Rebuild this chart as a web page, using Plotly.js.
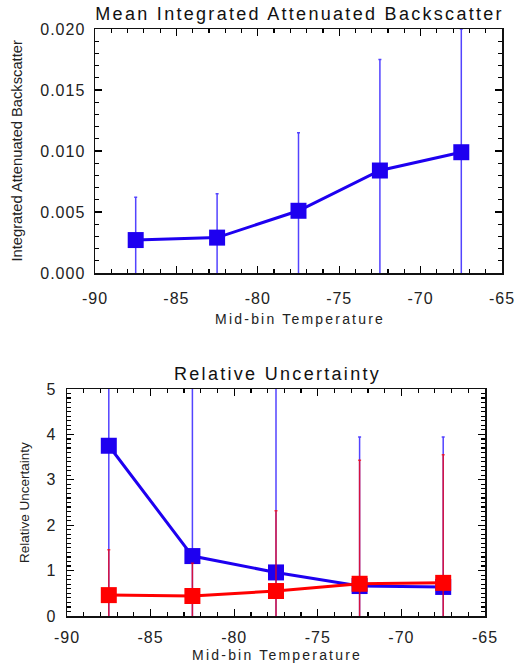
<!DOCTYPE html>
<html>
<head>
<meta charset="utf-8">
<script src="https://cdn.plot.ly/plotly-3.0.1.min.js"></script>
<style>
  html, body { margin: 0; padding: 0; background: #fff; }
  #top { width: 515px; height: 335px; }
  #bottom { width: 515px; height: 330px; }
  .xtick text, .ytick text { letter-spacing: 1px; }
</style>
</head>
<body>
<div id="top"></div>
<div id="bottom"></div>
<script>
// ---- data ----
const temperature = [-87.5, -82.5, -77.5, -72.5, -67.5];

const meanIAB    = [0.0027, 0.0029, 0.0051, 0.0084, 0.0099];
const meanIABErr = [0.0035, 0.0036, 0.0064, 0.0091, 0.0101];

const relUncBlue    = [3.75, 1.32, 0.96, 0.66, 0.64];
const relUncBlueErr = [4.20, 4.60, 4.40, 3.28, 3.30];

const relUncRed    = [0.46, 0.44, 0.55, 0.71, 0.73];
const relUncRedErr = [1.00, 0.72, 1.77, 2.72, 2.82];

const xTickVals = [-90, -85, -80, -75, -70, -65];
const xTickText = ['-90', '-85', '-80', '-75', '-70', '-65'];

// ---- styles ----
const BLUE = 'rgb(30,0,240)';
const BLUE_ERR = 'rgba(40,20,255,0.8)';
const RED = 'rgb(255,0,0)';
const RED_ERR = 'rgba(255,0,0,0.75)';
const FONT = '"Liberation Sans", Arial, Helvetica, sans-serif';
const W = 515;

function series(x, y, err, color, errColor) {
  return {
    x: x, y: y,
    type: 'scatter', mode: 'lines+markers',
    line: { color: color, width: 3 },
    marker: { symbol: 'square', size: 16, color: color },
    error_y: { type: 'data', array: err, visible: true, color: errColor, thickness: 1.5, width: 1.5 },
    showlegend: false, hoverinfo: 'none'
  };
}

const commonAxis = {
  showline: true, linecolor: '#111', linewidth: 1.5, mirror: 'allticks',
  ticks: 'inside', ticklen: 7, tickwidth: 1.3, tickcolor: '#000',
  showgrid: false, zeroline: false, ticklabeloverflow: 'allow',
  tickfont: { family: FONT, size: 16, color: '#222' }
};
const minorTicks = d => ({ dtick: d, ticks: 'inside', ticklen: 4, tickwidth: 1.2, tickcolor: '#000' });

// box: plot area in pixels within the panel {l, r, t, b}
function makeLayout(H, box, xExtra, yExtra, anns) {
  const px = v => v / W;
  const py = v => (H - v) / H;
  return {
    width: W, height: H,
    margin: { l: 0, r: 0, t: 0, b: 0 },
    xaxis: Object.assign({}, commonAxis, {
      domain: [px(box.l), px(box.r)],
      range: [-90, -65], tickvals: xTickVals, ticktext: xTickText,
      minor: minorTicks(1)
    }, xExtra),
    yaxis: Object.assign({}, commonAxis, {
      domain: [py(box.b), py(box.t)]
    }, yExtra),
    annotations: anns.map(a => Object.assign({
      xref: 'paper', yref: 'paper', showarrow: false, xanchor: 'center', yanchor: 'middle'
    }, a, { x: px(a.x), y: py(a.y) }))
  };
}

function widen(div, spacings) {
  div.querySelectorAll('.annotation').forEach((g, i) => {
    const t = g.querySelector('text.annotation-text');
    if (t && spacings[i]) t.style.letterSpacing = spacings[i];
  });
}

// ---- top panel (page y 0..335) ----
const topLayout = makeLayout(335, { l: 95, r: 502, t: 29, b: 273 },
  { ticklabelstandoff: 10 },
  { range: [0, 0.02], dtick: 0.005, tick0: 0, tickformat: '.3f', ticklabelstandoff: 5,
    minor: minorTicks(0.001) },
  [
    { text: 'Mean Integrated Attenuated Backscatter', x: 299, y: 13.5,
      font: { family: FONT, size: 18, color: '#111' } },
    { text: 'Mid-bin Temperature', x: 300, y: 318.5,
      font: { family: FONT, size: 14, color: '#222' } },
    { text: 'Integrated Attenuated Backscatter', x: 17, y: 151.5, textangle: -90,
      font: { family: FONT, size: 14.7, color: '#222' } }
  ]);

// ---- bottom panel (page y 335..665) ----
const OFF = 335;
const bottomLayout = makeLayout(330, { l: 67, r: 485, t: 389 - OFF, b: 616 - OFF },
  { ticklabelstandoff: 6 },
  { range: [0, 5], dtick: 1, tick0: 0, ticklabelstandoff: 6,
    minor: minorTicks(0.1) },
  [
    { text: 'Relative Uncertainty', x: 277, y: 374 - OFF,
      font: { family: FONT, size: 18, color: '#111' } },
    { text: 'Mid-bin Temperature', x: 277, y: 655 - OFF,
      font: { family: FONT, size: 14, color: '#222' } },
    { text: 'Relative Uncertainty', x: 25, y: 503 - OFF, textangle: -90,
      font: { family: FONT, size: 13.5, color: '#222' } }
  ]);

const cfg = { staticPlot: true, displayModeBar: false };

Plotly.newPlot('top', [series(temperature, meanIAB, meanIABErr, BLUE, BLUE_ERR)], topLayout, cfg)
  .then(gd => widen(gd, ['2.3px', '2.2px', null]));

Plotly.newPlot('bottom', [
  series(temperature, relUncBlue, relUncBlueErr, BLUE, BLUE_ERR),
  series(temperature, relUncRed, relUncRedErr, RED, RED_ERR)
], bottomLayout, cfg).then(gd => widen(gd, ['2.3px', '2.2px', null]));
</script>
</body>
</html>
